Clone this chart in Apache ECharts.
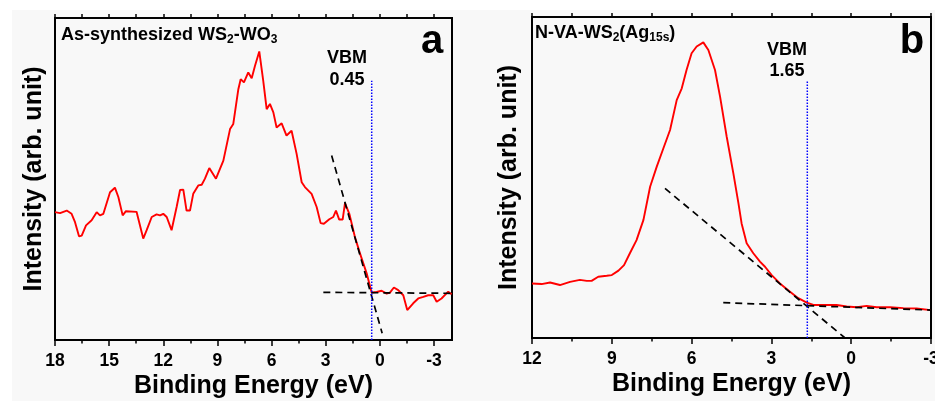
<!DOCTYPE html>
<html>
<head>
<meta charset="utf-8">
<script src="https://cdn.jsdelivr.net/npm/echarts@6/dist/echarts.min.js"></script>
<style>
html,body{margin:0;padding:0;background:#fff;}
#bg{position:absolute;left:12px;top:10px;width:923px;height:391px;background:#f8f8f8;}
#chart{position:absolute;left:0;top:0;width:935px;height:401px;}
</style>
</head>
<body>
<div id="bg"></div>
<div id="chart"></div>
<script>
// ---------- Panel a data ----------
const energyA = [18.0,17.72,17.35,17.08,16.89,16.67,16.52,16.28,15.97,15.69,15.51,15.32,14.95,14.68,14.49,14.25,14.07,13.48,13.11,12.92,12.64,12.37,12.18,12.0,11.81,11.54,11.26,11.07,10.89,10.71,10.52,10.34,10.06,9.87,9.69,9.45,9.08,8.67,8.3,8.12,7.84,7.71,7.53,7.29,7.1,6.92,6.68,6.46,6.27,6.09,5.9,5.72,5.44,5.17,4.89,4.61,4.33,4.15,3.78,3.5,3.28,3.1,2.8,2.58,2.43,2.25,2.06,1.93,1.69,1.38,1.1,0.73,0.45,0.18,-0.1,-0.38,-0.56,-0.78,-1.02,-1.3,-1.52,-1.85,-2.13,-2.41,-2.68,-2.96,-3.15,-3.42,-3.79,-3.98];
const intensityA = [39.7,39.4,40.2,39.2,36.6,32.2,32.4,35.6,37.2,39.7,38.7,39.2,45.9,47.3,44.4,38.7,40.0,39.8,31.5,34.1,38.2,39.0,38.7,39.2,38.2,34.1,41.3,46.6,46.7,40.2,40.2,45.4,48.0,48.2,50.1,53.4,50.1,55.7,65.5,67.1,77.9,81.0,80.0,83.1,81.3,85.1,89.6,80.5,71.7,73.3,70.7,66.0,67.3,63.5,65.0,57.8,49.0,47.5,45.4,41.3,36.3,36.1,37.5,38.2,40.2,37.4,37.4,42.5,39.2,32.0,26.9,20.7,14.7,14.9,15.3,14.4,14.7,16.3,15.5,13.9,9.3,11.4,12.9,13.4,13.9,13.9,11.9,12.9,15.0,14.2];
const fitSteepA = [[2.67,57.3],[-0.13,2.1]];
const fitFlatA = [[3.13,14.8],[-4.0,14.5]];
const vbmA = 0.45;
const vbmTopA = 80.5;

// ---------- Panel b data ----------
const energyB = [12.0,11.64,11.32,10.95,10.57,10.2,9.94,9.76,9.51,9.19,9.0,8.75,8.54,8.32,8.07,7.81,7.56,7.31,7.06,6.81,6.56,6.37,6.19,6.0,5.81,5.56,5.37,5.12,4.93,4.68,4.43,4.24,4.12,3.93,3.68,3.43,3.24,2.99,2.68,2.3,1.99,1.67,1.42,1.05,0.55,0.17,-0.21,-0.58,-0.96,-1.46,-1.96,-2.46,-2.99];
const intensityB = [17.0,16.8,17.3,16.5,17.5,18.1,17.8,17.8,19.1,19.4,19.6,21.0,22.7,26.4,30.5,36.8,47.1,53.4,59.1,64.8,74.1,77.8,83.5,88.7,90.8,92.1,89.7,83.5,75.2,62.7,51.3,42.0,35.7,29.5,26.4,23.8,22.2,19.6,17.0,14.4,12.4,11.0,10.3,10.3,10.3,9.8,9.6,10.0,9.6,9.6,9.3,9.2,8.7];
const fitSteepB = [[7.0,46.6],[0.23,0.0]];
const fitFlatB = [[4.81,11.0],[-3.0,8.7]];
const vbmB = 1.65;
const vbmTopB = 80.0;

// ---------- Tick labels ----------
const majorTicksA = [18,15,12,9,6,3,0,-3];
const minorTicksA = [16.5,13.5,10.5,7.5,4.5,1.5,-1.5];
const majorTicksB = [12,9,6,3,0,-3];
const minorTicksB = [10.5,7.5,4.5,1.5,-1.5];

const FONT = '"Liberation Sans", Arial, sans-serif';
const zip = (xs, ys) => xs.map((x, i) => [x, ys[i]]);

function xAxes(grid, min, max, major, minor) {
  const base = {
    gridIndex: grid, type: 'value', min: min, max: max, inverse: true,
    axisLine: {show: false}, splitLine: {show: false}
  };
  const tick = (vals, len) => ({show: true, customValues: vals, length: len, inside: false,
    lineStyle: {color: '#000', width: 1.5}});
  return [
    Object.assign({}, base, {
      position: 'bottom',
      axisTick: tick(major, 6),
      axisLabel: {show: true, customValues: major, color: '#000', fontFamily: FONT,
        fontWeight: 'bold', fontSize: 17.5, margin: 12},
      name: 'Binding Energy (eV)', nameLocation: 'middle', nameGap: 34, nameMoveOverlap: false,
      nameTextStyle: {color: '#000', fontFamily: FONT, fontWeight: 'bold', fontSize: 25}
    }),
    Object.assign({}, base, {position: 'bottom', axisTick: tick(minor, 3.5), axisLabel: {show: false}}),
    Object.assign({}, base, {position: 'top', axisTick: tick(major, 4), axisLabel: {show: false}}),
    Object.assign({}, base, {position: 'top', axisTick: tick(minor, 4), axisLabel: {show: false}})
  ];
}

function yAxis(grid, gap) {
  return {
    gridIndex: grid, type: 'value', min: 0, max: 100,
    axisLine: {show: false}, axisTick: {show: false}, axisLabel: {show: false}, splitLine: {show: false},
    name: 'Intensity (arb. unit)', nameLocation: 'middle', nameRotate: 90, nameGap: gap, nameMoveOverlap: false,
    nameTextStyle: {color: '#000', fontFamily: FONT, fontWeight: 'bold', fontSize: 25}
  };
}

function seriesSet(xIdx, yIdx, ex, iy, steep, flat, vbm, vbmTop) {
  return [
    {type: 'line', xAxisIndex: xIdx, yAxisIndex: yIdx, data: zip(ex, iy), showSymbol: false,
      lineStyle: {color: '#ff0000', width: 1.9}, animation: false, z: 2},
    {type: 'line', xAxisIndex: xIdx, yAxisIndex: yIdx, data: steep, showSymbol: false,
      lineStyle: {color: '#000', width: 1.7, type: [7, 5]}, animation: false, z: 3},
    {type: 'line', xAxisIndex: xIdx, yAxisIndex: yIdx, data: flat, showSymbol: false,
      lineStyle: {color: '#000', width: 1.7, type: [7, 5]}, animation: false, z: 3},
    {type: 'line', xAxisIndex: xIdx, yAxisIndex: yIdx, data: [[vbm, 0], [vbm, vbmTop]], showSymbol: false,
      lineStyle: {color: '#0000ff', width: 1.5, type: [1.5, 1.5]}, animation: false, z: 4}
  ];
}

const chart = echarts.init(document.getElementById('chart'));
const subStyle = {fontSize: 12, fontWeight: 'bold', fontFamily: FONT, fill: '#000', lineHeight: 12, padding: [10, 0, 0, 0]};
const baseStyle = {fontSize: 18, fontWeight: 'bold', fontFamily: FONT, fill: '#000', lineHeight: 22};

chart.setOption({
  backgroundColor: 'transparent',
  animation: false,
  grid: [
    {left: 55, top: 18, width: 397, height: 322, show: true, borderColor: '#000', borderWidth: 2, backgroundColor: 'transparent', containLabel: false, outerBoundsMode: 'none'},
    {left: 532, top: 17, width: 399, height: 321, show: true, borderColor: '#000', borderWidth: 2, backgroundColor: 'transparent', containLabel: false, outerBoundsMode: 'none'}
  ],
  xAxis: xAxes(0, -4, 18, majorTicksA, minorTicksA).concat(xAxes(1, -3, 12, majorTicksB, minorTicksB)),
  yAxis: [yAxis(0, 8), yAxis(1, 10)],
  series: seriesSet(0, 0, energyA, intensityA, fitSteepA, fitFlatA, vbmA, vbmTopA)
    .concat(seriesSet(4, 1, energyB, intensityB, fitSteepB, fitFlatB, vbmB, vbmTopB)),
  graphic: [
    {type: 'text', left: 61, top: 24, style: {text: '{b|As-synthesized WS}{s|2}{b|-WO}{s|3}', rich: {b: baseStyle, s: subStyle}}},
    {type: 'text', left: 535, top: 22, style: {text: '{b|N-VA-WS}{s|2}{b|(Ag}{s|15s}{b|)}', rich: {b: baseStyle, s: subStyle}}},
    {type: 'text', x: 347, y: 69, style: {text: 'VBM\n0.45', align: 'center', verticalAlign: 'middle', fontSize: 18, lineHeight: 22, fontWeight: 'bold', fontFamily: FONT, fill: '#000'}},
    {type: 'text', x: 787, y: 61, style: {text: 'VBM\n1.65', align: 'center', verticalAlign: 'middle', fontSize: 18, lineHeight: 21, fontWeight: 'bold', fontFamily: FONT, fill: '#000'}},
    {type: 'text', x: 432, y: 42, style: {text: 'a', align: 'center', verticalAlign: 'middle', fontSize: 40, fontWeight: 'bold', fontFamily: FONT, fill: '#000'}},
    {type: 'text', x: 912, y: 42, style: {text: 'b', align: 'center', verticalAlign: 'middle', fontSize: 40, fontWeight: 'bold', fontFamily: FONT, fill: '#000'}}
  ]
});
</script>
</body>
</html>
